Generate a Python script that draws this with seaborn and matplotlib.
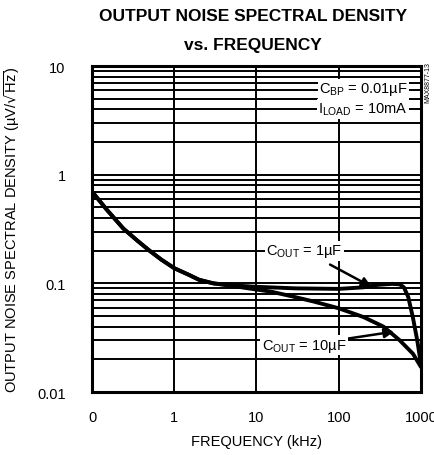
import matplotlib
matplotlib.use('Agg')
import matplotlib.pyplot as plt
import pandas as pd
import seaborn as sns
from matplotlib.ticker import LogLocator, NullFormatter

# Curve data (frequency in kHz, noise in uV/rtHz)
freq_1uF = [0.1, 0.15, 0.24, 0.35, 0.5, 0.7, 1, 1.5, 2, 3, 5, 10, 30, 100, 200, 300, 450, 550, 620, 700, 800, 900, 1000]
noise_1uF = [0.70, 0.48, 0.32, 0.25, 0.20, 0.165, 0.138, 0.12, 0.108, 0.100, 0.096, 0.093, 0.090, 0.089, 0.092, 0.097, 0.099, 0.098, 0.092, 0.075, 0.048, 0.030, 0.018]

freq_10uF = [0.1, 0.15, 0.24, 0.35, 0.5, 0.7, 1, 1.5, 2, 3, 5, 8, 15, 27, 50, 100, 200, 350, 550, 800, 1000]
noise_10uF = [0.70, 0.48, 0.32, 0.25, 0.20, 0.165, 0.138, 0.12, 0.108, 0.100, 0.095, 0.090, 0.084, 0.076, 0.068, 0.059, 0.049, 0.040, 0.030, 0.0225, 0.017]

x_ticks = [0.1, 1, 10, 100, 1000]
x_labels = ['0', '1', '10', '100', '1000']
y_ticks = [0.01, 0.1, 1, 10]
y_labels = ['0.01', '0.1', '1', '10']

df = pd.concat([
    pd.DataFrame({'freq': freq_1uF, 'noise': noise_1uF, 'cap': '1uF'}),
    pd.DataFrame({'freq': freq_10uF, 'noise': noise_10uF, 'cap': '10uF'}),
])

sns.set_style('white')
plt.rcParams['font.family'] = ['Liberation Sans', 'DejaVu Sans']
plt.rcParams['text.color'] = 'black'
plt.rcParams['axes.labelcolor'] = 'black'
plt.rcParams['xtick.color'] = 'black'
plt.rcParams['ytick.color'] = 'black'

fig = plt.figure(figsize=(4.34, 4.56), dpi=100)
ax = fig.add_axes([0.212, 0.138, 0.758, 0.715])

sns.lineplot(data=df, x='freq', y='noise', hue='cap', palette=['black', 'black'],
             legend=False, linewidth=2.8, estimator=None, sort=False, ax=ax, zorder=5)

ax.set_xscale('log')
ax.set_yscale('log')
ax.set_xlim(0.1, 1000)
ax.set_ylim(0.01, 10)

ax.yaxis.set_minor_locator(LogLocator(base=10, subs=range(2, 10)))
ax.xaxis.set_minor_formatter(NullFormatter())
ax.yaxis.set_minor_formatter(NullFormatter())
ax.grid(True, which='both', axis='y', color='black', linewidth=1.4)
ax.grid(True, which='major', axis='x', color='black', linewidth=1.4)
ax.set_axisbelow(True)

ax.set_xticks(x_ticks)
ax.set_xticklabels(x_labels)
ax.set_yticks(y_ticks)
ax.set_yticklabels(y_labels)
ax.tick_params(axis='both', which='both', length=0, labelsize=10.5)
ax.tick_params(axis='x', pad=13)
ax.tick_params(axis='y', pad=19)

for sp in ax.spines.values():
    sp.set_linewidth(2.2)
    sp.set_color('black')

ax.set_xlabel('FREQUENCY (kHz)', fontsize=10.5, labelpad=7)
ax.set_ylabel(r'OUTPUT NOISE SPECTRAL DENSITY (µV/$\sqrt{\mathregular{Hz}}$)', fontsize=10.5, labelpad=11)

fig.text(0.583, 0.981, 'OUTPUT NOISE SPECTRAL DENSITY\nvs. FREQUENCY', ha='center', va='top',
         fontsize=12.5, fontweight='heavy', linespacing=2.2)

box = dict(facecolor='white', edgecolor='none', pad=1)
ax.text(0.96, 0.93, r'$\mathregular{C_{BP}}$ = 0.01µF', transform=ax.transAxes, ha='right', va='center',
        fontsize=10.5, bbox=box, zorder=6)
ax.text(0.96, 0.868, r'$\mathregular{I_{LOAD}}$ = 10mA', transform=ax.transAxes, ha='right', va='center',
        fontsize=10.5, bbox=box, zorder=6)

ax.annotate(r'$\mathregular{C_{OUT}}$ = 1µF', xy=(250, 0.093), xytext=(38, 0.2),
            ha='center', va='center', fontsize=10.5, bbox=box, zorder=6,
            arrowprops=dict(arrowstyle='-|>', color='black', lw=1.8, mutation_scale=14, shrinkA=6, shrinkB=0))
ax.annotate(r'$\mathregular{C_{OUT}}$ = 10µF', xy=(470, 0.036), xytext=(38, 0.027),
            ha='center', va='center', fontsize=10.5, bbox=box, zorder=6,
            arrowprops=dict(arrowstyle='-|>', color='black', lw=1.8, mutation_scale=14, shrinkA=0, shrinkB=0))

fig.text(0.985, 0.82, 'MAX8877-13', rotation=90, ha='center', va='center', fontsize=5)

fig.savefig('out.png', dpi=100)
